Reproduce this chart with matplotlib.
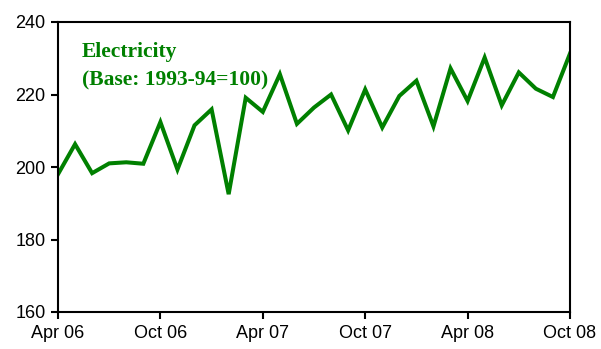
import matplotlib
matplotlib.use("Agg")
import matplotlib.pyplot as plt
import numpy as np

# Monthly electricity index, Apr 06 .. Oct 08 (base 1993-94 = 100)
months = np.arange(31)
electricity = [
    198.0, 206.3, 198.3, 201.0, 201.3, 200.9, 212.4, 199.3, 211.5, 215.9,
    192.5, 219.1, 215.2, 225.6, 211.9, 216.4, 220.0, 210.1, 221.4, 210.9,
    219.6, 223.8, 211.2, 227.2, 218.2, 230.2, 217.0, 226.1, 221.6, 219.3,
    231.3,
]
tick_pos = [0, 6, 12, 18, 24, 30]
tick_labels = ["Apr 06", "Oct 06", "Apr 07", "Oct 07", "Apr 08", "Oct 08"]
y_ticks = [160, 180, 200, 220, 240]

green = "#008000"

fig = plt.figure(figsize=(6.01, 3.49), dpi=100)
ax = fig.add_axes([58 / 601, 1 - 312 / 349, (570 - 58) / 601, (312 - 22) / 349])

ax.plot(months, electricity, color=green, lw=2.9, solid_joinstyle="miter")

ax.set_xlim(0, 30)
ax.set_ylim(160, 240)
ax.set_xticks(tick_pos)
ax.set_xticklabels(tick_labels)
ax.set_yticks(y_ticks)

for s in ax.spines.values():
    s.set_linewidth(1.5)
    s.set_color("black")
ax.tick_params(direction="out", length=5, width=1.5, labelsize=13,
               pad=4)
for lab in ax.get_xticklabels() + ax.get_yticklabels():
    lab.set_family("Liberation Sans")

ax.text(0.047, 0.93, "Electricity\n(Base: 1993-94=100)", transform=ax.transAxes,
        color=green, fontsize=15.5, fontweight="bold", family="Liberation Serif",
        va="top", ha="left", linespacing=1.55)

fig.savefig("out.png", dpi=100)
